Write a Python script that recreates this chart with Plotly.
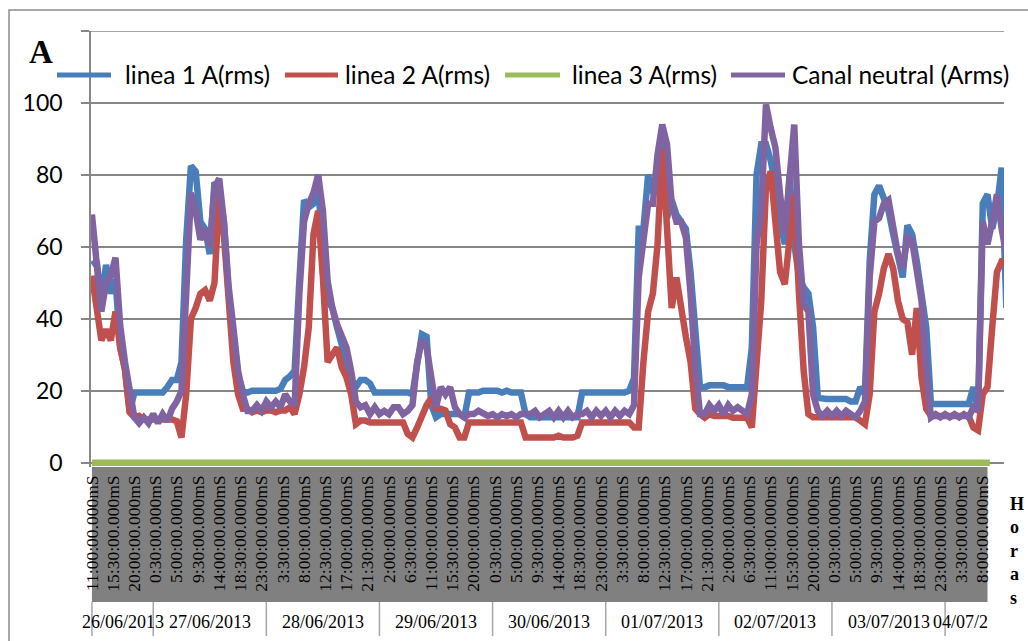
import pandas as pd
import plotly.graph_objects as go

# ---------------- data (hourly readings) ----------------
start_time = "2013-06-26 11:00"

linea1 = [55, 56, 45, 55, 47, 51, 32, 26, 14, 19.5, 19.5, 19.5, 19.5, 19.5, 19.5, 19.5, 21, 23, 23, 28,
          62, 82.5, 81, 67, 65, 58, 78, 75.5, 67, 47, 35.7, 24.6, 20, 19.5, 20, 20, 20, 20, 20, 20,
          20.5, 23, 24, 25.5, 50.5, 73, 71, 72, 80, 53, 45, 43, 37.6, 32, 28, 23, 21, 23, 23, 22,
          19.5, 19.5, 19.5, 19.5, 19.5, 19.5, 19.5, 19.5, 19, 28, 35.7, 35, 16, 12.6, 13.5, 13.5, 13.5, 13.5, 13.5, 12.6,
          19.5, 19.5, 19.5, 20, 20, 20, 20, 19.5, 20, 19.5, 19.5, 19.5, 13.5, 12.6, 12.6, 12.6, 12.6, 12.6, 12.6, 12.6,
          12.6, 12.6, 12.6, 12.6, 19.5, 19.5, 19.5, 19.5, 19.5, 19.5, 19.5, 19.5, 19.5, 19.5, 20, 23.5, 65, 65, 80, 75.5,
          76.5, 93, 68, 73, 69, 67, 65, 53, 37.6, 21, 21, 21.5, 21.5, 21.5, 21.5, 21, 21, 21, 21, 21,
          32, 80, 88.5, 88.5, 84, 77, 67, 60.7, 80, 61, 51.5, 48.7, 47, 37.6, 18, 17.7, 17.7, 17.7, 17.7, 17.7,
          17.7, 17, 17, 21, 19, 56, 74.6, 77, 73, 70, 63.5, 58, 51.5, 66, 63.5, 56, 45, 37.6, 16.3, 16.3,
          16.3, 16.3, 16.3, 16.3, 16.3, 16.3, 16.3, 21, 14.4, 72, 74.6, 65, 71, 82, 43]

linea2 = [52, 43, 34, 37, 34, 42, 32, 26, 14, 12.6, 13, 12, 12, 12, 12, 12, 12, 12, 11.5, 7,
          19, 40, 43, 47, 48, 45, 50, 74.6, 63, 43, 28, 19, 15, 15, 14, 14.5, 14, 14.5, 14.5, 14,
          14.5, 14.5, 15.4, 13.5, 19, 26.5, 37.6, 63.5, 70, 51.5, 28, 30, 32, 26.5, 23.7, 19, 10.7, 11.7, 11.7, 11.2,
          11.2, 11.2, 11.2, 11.2, 11.2, 11.2, 11.2, 8, 7, 9.8, 13.5, 16, 18, 15, 15, 14.5, 10.7, 9.8, 7, 7,
          11.2, 11.2, 11.2, 11.2, 11.2, 11.2, 11.2, 11.2, 11.2, 11.2, 11.2, 11.2, 7, 7, 7, 7, 7, 7, 7, 7.5,
          7, 7, 7, 7.5, 11.2, 11.2, 11.2, 11.2, 11.2, 11.2, 11.2, 11.2, 11.2, 11.2, 11.2, 9.8, 9.8, 28, 42, 47,
          60.7, 87.6, 65, 43, 51.5, 42, 35, 28, 15, 13.5, 12.5, 13.5, 13, 13, 13, 13, 12.5, 12.5, 12.5, 12.5,
          9.8, 28, 45, 76.5, 81, 67, 53, 49.6, 63.5, 74.6, 47, 25.5, 13.5, 12.6, 12.6, 12.6, 12.6, 12.6, 12.6, 12.6,
          12.6, 12.6, 12.6, 11.7, 10.7, 19, 42, 47, 54, 58, 54, 45, 40, 39, 30, 43, 23.7, 15, 13, 13,
          13, 13, 13, 13, 13, 13, 13, 9.8, 9, 19, 21, 37.6, 53, 56, 56]

neutral = [69, 56, 42, 50, 52, 57, 38, 28, 21, 12.6, 11, 12.6, 11, 13.5, 11, 13.5, 11.5, 15, 17, 20,
           47, 75, 70, 62, 65, 60, 76.5, 79, 67, 49, 37.6, 25.5, 19, 14.4, 14.4, 16, 14.4, 17, 15.4, 17,
           15.4, 19, 17, 16, 47, 67, 72, 75, 80, 70, 50.5, 43, 38.5, 35.7, 32, 25.5, 17, 15.4, 16, 13.5,
           15.4, 13.5, 14.4, 13.5, 15.4, 15.4, 13.5, 14.4, 16, 28, 34, 32, 23.7, 15.4, 21, 19, 21, 15.4, 13.5, 12.6,
           13.5, 13.5, 14.4, 13.5, 13, 13.5, 12.6, 13.5, 13, 13.5, 12.6, 13.5, 13.5, 13.5, 14.4, 12.6, 13.5, 14.4, 12.6, 14.4,
           12.6, 14.4, 12.6, 13.5, 13.5, 14.4, 12.6, 14.4, 13, 14.4, 12.6, 14.4, 13, 14.4, 13.5, 16, 51.5, 60.7, 72, 72,
           85.7, 94, 88.5, 72, 67, 67, 62.6, 47, 26.5, 13.5, 13.5, 16, 14.4, 16, 13.5, 16, 14.4, 15.4, 14.4, 13.5,
           19, 60.7, 70, 99.6, 93, 87.6, 74.6, 63.5, 79, 94, 60.7, 44, 42, 19, 14.4, 13, 14.4, 13, 14.4, 13,
           14.4, 13.5, 12.6, 14.4, 17, 51.5, 67, 68, 72, 73, 65, 58, 54, 62.6, 61.7, 54, 45, 25.5, 12.6, 13.5,
           12.6, 13.5, 12.6, 13.5, 12.6, 13.5, 12.6, 15.4, 14.4, 67, 60.7, 67, 74.6, 65, 58]

linea3_times = ["2013-06-26 11:00", "2013-07-04 09:30"]
linea3 = [0, 0]

series_names = ["linea 1 A(rms)", "linea 2 A(rms)", "linea 3 A(rms)", "Canal neutral (Arms)"]
series_colors = ["#4A7EBB", "#C0504D", "#9BBB59", "#8064A2"]

tick_labels = ["11:00", "15:30", "20:00", "0:30", "5:00", "9:30", "14:00", "18:30", "23:00",
               "3:30", "8:00", "12:30", "17:00", "21:30", "2:00", "6:30", "11:00", "15:30", "20:00",
               "0:30", "5:00", "9:30", "14:00", "18:30", "23:00", "3:30", "8:00", "12:30", "17:00",
               "21:30", "2:00", "6:30", "11:00", "15:30", "20:00", "0:30", "5:00", "9:30", "14:00",
               "18:30", "23:00", "3:30", "8:00"]

day_labels = ["26/06/2013", "27/06/2013", "28/06/2013", "29/06/2013", "30/06/2013",
              "01/07/2013", "02/07/2013", "03/07/2013"]
day_bounds = ["2013-06-26 11:00", "2013-06-27 00:00", "2013-06-28 00:00", "2013-06-29 00:00",
              "2013-06-30 00:00", "2013-07-01 00:00", "2013-07-02 00:00", "2013-07-03 00:00",
              "2013-07-04 00:00"]
last_day_label = "04/07/2"

y_ticks = [0, 20, 40, 60, 80, 100, 120]

# ---------------- figure ----------------
times = pd.date_range(start_time, periods=len(linea1), freq="h")
tick_pos = pd.date_range(start_time, periods=len(tick_labels), freq="270min")
tick_text = [t + ":00.000mS" for t in tick_labels]

LW = 6.5
fig = go.Figure()
fig.add_trace(go.Scatter(x=times, y=linea1, mode="lines", name=series_names[0],
                         line=dict(color=series_colors[0], width=LW)))
fig.add_trace(go.Scatter(x=times, y=linea2, mode="lines", name=series_names[1],
                         line=dict(color=series_colors[1], width=LW)))
fig.add_trace(go.Scatter(x=linea3_times, y=linea3, mode="lines", name=series_names[2],
                         line=dict(color=series_colors[2], width=LW)))
fig.add_trace(go.Scatter(x=times, y=neutral, mode="lines", name=series_names[3],
                         line=dict(color=series_colors[3], width=LW)))

W, H = 1028, 641
L, R, T, B = 91, 1004, 31, 467


def px(xp):
    return (xp - L) / (R - L)


def py(yp):
    return (B - yp) / (B - T)


grid = "#868686"
shapes = []
annotations = []

# gray band under the time labels
shapes.append(dict(type="rect", xref="x", yref="paper", x0=day_bounds[0], x1="2013-07-04 09:00",
                   y0=py(602), y1=0, fillcolor="#808080", line=dict(width=0), layer="below"))
# day dividers
for d in day_bounds:
    shapes.append(dict(type="line", xref="x", yref="paper", x0=d, x1=d, y0=py(602), y1=py(636),
                       line=dict(color="#a6a6a6", width=1.5)))
# top gridline
shapes.append(dict(type="line", xref="paper", yref="y", x0=0, x1=1, y0=120, y1=120,
                   line=dict(color=grid, width=1.5)))
# outer frame
shapes.append(dict(type="rect", xref="paper", yref="paper", x0=px(9), x1=1.1, y0=py(10), y1=-0.6,
                   line=dict(color="#8c8c8c", width=1.5), fillcolor="rgba(0,0,0,0)"))

# custom legend
leg_lines = [(57, 111), (285, 338), (505, 560), (731, 785)]
leg_text_x = [123, 343, 570, 790]
for (a, b), tx, name, col in zip(leg_lines, leg_text_x, series_names, series_colors):
    shapes.append(dict(type="line", xref="paper", yref="paper", x0=px(a), x1=px(b),
                       y0=py(75), y1=py(75), line=dict(color=col, width=5)))
    annotations.append(dict(xref="paper", yref="paper", x=px(tx), y=py(75), text=name,
                            showarrow=False, xanchor="left", yanchor="middle",
                            font=dict(family="Lato", size=24.5, color="black")))

# date labels
for i, lab in enumerate(day_labels):
    t0 = pd.Timestamp(day_bounds[i])
    t1 = pd.Timestamp(day_bounds[i + 1])
    annotations.append(dict(xref="x", yref="paper", x=t0 + (t1 - t0) / 2, y=py(622), text=lab,
                            showarrow=False, xanchor="center", yanchor="middle",
                            font=dict(family="Liberation Serif", size=18, color="black")))
annotations.append(dict(xref="paper", yref="paper", x=px(931), y=py(622), text=last_day_label,
                        showarrow=False, xanchor="left", yanchor="middle",
                        font=dict(family="Liberation Serif", size=18, color="black")))

# axis titles
annotations.append(dict(xref="paper", yref="paper", x=px(41), y=py(52), text="<b>A</b>",
                        showarrow=False, xanchor="center", yanchor="middle",
                        font=dict(family="Liberation Serif", size=33, color="black")))
annotations.append(dict(xref="paper", yref="paper", x=px(1008), y=py(551), text="<b>H<br>o<br>r<br>a<br>s</b>",
                        showarrow=False, xanchor="left", yanchor="middle", align="left",
                        font=dict(family="Liberation Serif", size=18, color="black")))

fig.update_layout(
    width=W, height=H,
    margin=dict(l=L, r=W - R, t=T, b=H - B, pad=0),
    paper_bgcolor="white", plot_bgcolor="white",
    showlegend=False,
    shapes=shapes, annotations=annotations,
    xaxis=dict(type="date", range=["2013-06-26 10:48", "2013-07-04 12:30"],
               tickvals=tick_pos, ticktext=tick_text, tickangle=-90,
               tickfont=dict(family="Liberation Serif", size=17.5, color="black"),
               ticks="", showgrid=False, zeroline=False, showline=False,
               ticklabelstandoff=4),
    yaxis=dict(range=[-1.2, 120], tickvals=y_ticks,
               ticktext=[str(v) if v < 120 else "" for v in y_ticks],
               showgrid=True, gridcolor=grid, gridwidth=1.5, zeroline=False,
               showline=True, linecolor=grid, linewidth=1.5,
               ticks="outside", ticklen=8, tickcolor=grid, tickwidth=1.5,
               tickfont=dict(family="Lato", size=23, color="black"),
               ticklabelstandoff=14),
)

fig.write_html("out.html")
